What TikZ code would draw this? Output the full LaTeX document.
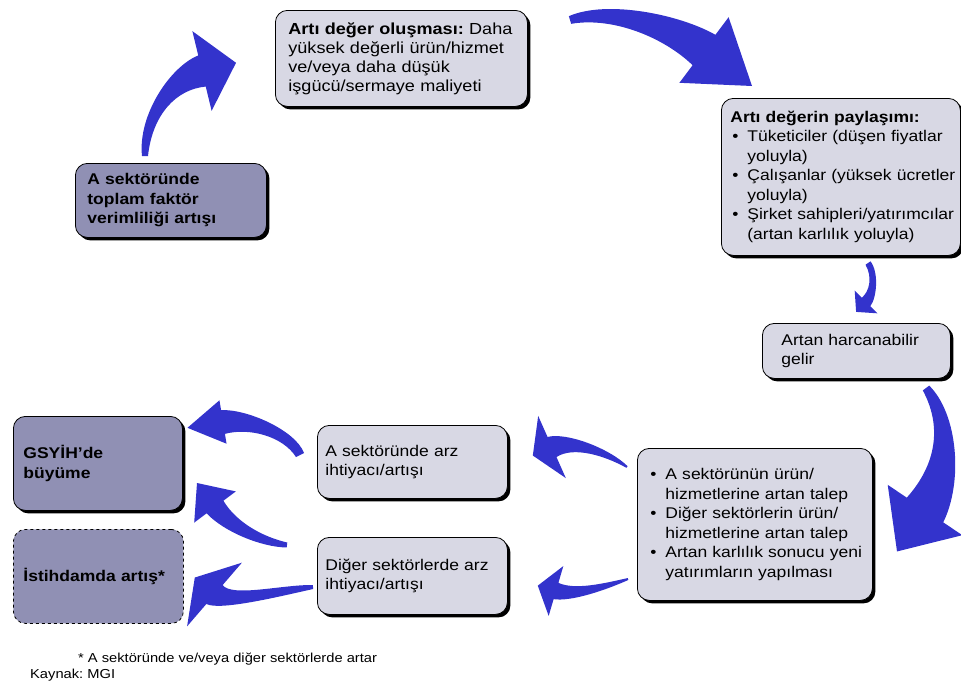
\documentclass[tikz,border=0pt]{standalone}
\usepackage{fontspec}
\setmainfont[FakeStretch=1.13]{Liberation Sans}
\usetikzlibrary{calc,shadows}
\frenchspacing
\definecolor{lightbox}{HTML}{D8D8E4}
\definecolor{darkbox}{HTML}{9090B4}
\definecolor{arrowblue}{HTML}{3333CC}
\newcommand\itm[1]{\mbox{\makebox[15pt][l]{\textbullet}#1}}
\newcommand\cnt[1]{\mbox{\hspace*{15pt}#1}}
% #1 name, #2 tail, #3 ctrl1, #4 ctrl2, #5 head base, #6 tail half width, #7 base half width, #8 head half width, #9 head length
\newcommand\blockarrow[9]{%
  \pgfmathsetmacro\arwA{#6+(#7-#6)/3}%
  \pgfmathsetmacro\arwB{#6+2*(#7-#6)/3}%
  \coordinate (#1-T) at (#2);
  \coordinate (#1-c1) at (#3);
  \coordinate (#1-c2) at (#4);
  \coordinate (#1-B) at (#5);
  \coordinate (#1-tip) at ($(#1-B)!#9pt!180:(#1-c2)$);
  \fill[arrowfill] ($(#1-T)!#6pt!90:(#1-c1)$)
     .. controls ($(#1-c1)!\arwA pt!-90:(#1-T)$) and ($(#1-c2)!\arwB pt!90:(#1-B)$) ..
     ($(#1-B)!#7pt!-90:(#1-c2)$) -- ($(#1-B)!#8pt!-90:(#1-c2)$) -- (#1-tip)
     -- ($(#1-B)!#8pt!90:(#1-c2)$) -- ($(#1-B)!#7pt!90:(#1-c2)$)
     .. controls ($(#1-c2)!\arwB pt!-90:(#1-B)$) and ($(#1-c1)!\arwA pt!90:(#1-T)$) ..
     ($(#1-T)!#6pt!-90:(#1-c1)$) -- cycle;
}
\begin{document}
\begin{tikzpicture}[x=1pt,y=-1pt,
  basebox/.style={draw=black, line width=0.8pt, rounded corners=12pt, anchor=north west,
    align=left, inner ysep=2pt, font=\fontsize{15.5}{19.5}\selectfont},
  shadowed/.style={drop shadow={shadow xshift=3pt, shadow yshift=-3pt, fill=black, opacity=1}},
  lbox/.style={basebox, shadowed, fill=lightbox},
  dbox/.style={basebox, shadowed, fill=darkbox, font=\fontsize{15.5}{19.5}\selectfont\bfseries},
  dashbox/.style={basebox, fill=darkbox, dashed, font=\fontsize{15.5}{19.5}\selectfont\bfseries},
  arrowfill/.style={fill=arrowblue},
  note/.style={anchor=base west, inner sep=0pt, font=\fontsize{13}{16}\selectfont}]
\useasboundingbox (0,0) rectangle (961,686);

\node[dbox, minimum width=191pt, minimum height=74pt, text width=167pt, inner xsep=12pt] (tfp) at (75,163)
  {A sektöründe\\toplam faktör\\verimliliği artışı};
\node[lbox, minimum width=250pt, minimum height=96pt, text width=226pt, inner xsep=13pt,
      font=\fontsize{16}{19}\selectfont] (olus) at (275,10)
  {\mbox{\textbf{Artı değer oluşması:} Daha}\\\mbox{yüksek değerli ürün/hizmet}\\ve/veya daha düşük\\\mbox{işgücü/sermaye maliyeti}};
\node[lbox, minimum width=237pt, minimum height=157pt, text width=221pt, inner xsep=9pt] (pay) at (721,98)
  {\textbf{Artı değerin paylaşımı:}\\
   \hspace*{2pt}\itm{Tüketiciler (düşen fiyatlar}\\\hspace*{2pt}\cnt{yoluyla)}\\
   \hspace*{2pt}\itm{Çalışanlar (yüksek ücretler}\\\hspace*{2pt}\cnt{yoluyla)}\\
   \hspace*{2pt}\itm{Şirket sahipleri/yatırımcılar}\\\hspace*{2pt}\cnt{(artan karlılık yoluyla)}};
\node[lbox, minimum width=184pt, minimum height=55pt, text width=150pt, inner xsep=19pt] (gelir) at (762,323)
  {Artan harcanabilir\\gelir};
\node[lbox, minimum width=233pt, minimum height=152pt, text width=209pt, inner xsep=13pt] (talep) at (637,448)
  {\itm{A sektörünün ürün/}\\\cnt{hizmetlerine artan talep}\\
   \itm{Diğer sektörlerin ürün/}\\\cnt{hizmetlerine artan talep}\\
   \itm{Artan karlılık sonucu yeni}\\\cnt{yatırımların yapılması}};
\node[lbox, minimum width=188pt, minimum height=73pt, text width=174pt, inner xsep=8pt] (arzA) at (317,425)
  {A sektöründe arz\\ihtiyacı/artışı};
\node[lbox, minimum width=188pt, minimum height=77pt, text width=174pt, inner xsep=8pt] (arzD) at (317,537)
  {Diğer sektörlerde arz\\ihtiyacı/artışı};
\node[dbox, minimum width=167pt, minimum height=94pt, text width=149pt, inner xsep=10pt] (gsyih) at (13,416)
  {GSYİH’de\\büyüme};
\node[dashbox, minimum width=168pt, minimum height=94pt, text width=150pt, inner xsep=10pt] (istih) at (13,529)
  {İstihdamda artış*};

% curved block arrows
\blockarrow{a1}{145,156}{145,115}{173,78}{202,71}{3}{16}{41}{35}
\blockarrow{a2}{570,20}{610,8}{672,26}{704,50}{4}{19}{41}{60}
\blockarrow{a3}{868,263}{876,275}{873,295}{866,302}{3}{6}{16}{14}
\blockarrow{a4}{926,388}{950,420}{950,473}{925,510}{4}{22}{45}{50}
\blockarrow{a5}{627,467}{607,452}{570,439}{552,447}{1}{11}{34}{21}
\blockarrow{a6}{628,579}{604,587}{573,596}{556,591}{1}{8.5}{26}{19}
\blockarrow{a7}{300,455}{289,433}{247.5,418}{223,422}{4.5}{12}{22}{36}
\blockarrow{a8}{287,545}{262,542}{230,527}{215,507}{2.5}{10.5}{26}{30}
\blockarrow{a9}{313,587}{283,590}{226,604.4}{214.5,594.5}{2}{12.5}{42}{26}

\node[note] (fn) at (78,662) {* A sektöründe ve/veya diğer sektörlerde artar};
\node[note] (src) at (30,678) {Kaynak: MGI};
\end{tikzpicture}
\end{document}
